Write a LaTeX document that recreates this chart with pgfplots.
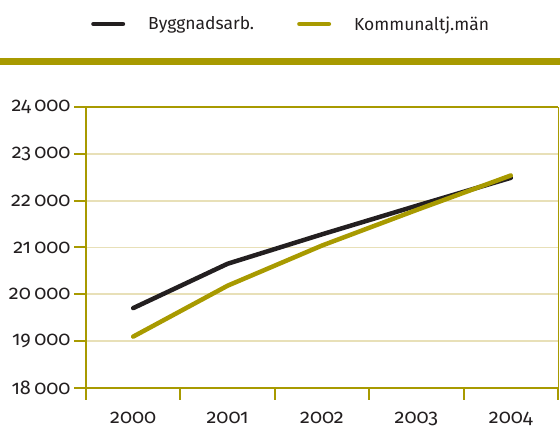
\documentclass[border=0pt]{standalone}
\usepackage{fontspec}
\setmainfont{Fira Sans}[RawFeature=+onum]
\newfontfamily\fa{Fira Sans}[RawFeature=+onum]
\usepackage{pgfplots}
\pgfplotsset{compat=1.18}
\definecolor{olv}{RGB}{168,154,0}
\definecolor{gridc}{RGB}{232,224,184}
\definecolor{txt}{RGB}{35,31,32}
\begin{document}
\begin{tikzpicture}[x=1bp,y=1bp]
\useasboundingbox (0,0) rectangle (560,429);
\fill[olv] (0,429-65) rectangle (560,429-57.5);
\begin{axis}[
  at={(86bp,41.5bp)}, anchor=south west,
  scale only axis, width=472bp, height=280.2bp,
  clip=false,
  xmin=-0.5, xmax=4.5, ymin=18000, ymax=24000,
  scaled y ticks=false,
  xtick={-0.5,0.5,...,4.5}, x tick label as interval,
  xticklabels={\mbox{\fa 2000},\mbox{\fa 2001},\mbox{\fa 2002},\mbox{\fa 2003},\mbox{\fa 2004}},
  ytick={18000,19000,...,24000},
  yticklabels={\mbox{\fa 18\,000},\mbox{\fa 19\,000},\mbox{\fa 20\,000},\mbox{\fa 21\,000},\mbox{\fa 22\,000},\mbox{\fa 23\,000},\mbox{\fa 24\,000}},
  tick align=outside, tick pos=left,
  major tick length=12bp,
  every tick/.style={olv, line width=2bp},
  ymajorgrids, grid style={gridc, line width=1.6bp},
  axis line style={draw=none},
  tick label style={font=\fa\fontsize{20}{24}\selectfont, text=txt},
  xticklabel style={yshift=-9bp},
  yticklabel style={inner xsep=3.3bp},
  legend columns=2,
  legend style={at={(axis description cs:0.0106,1.2973)}, anchor=west, draw=none, fill=none, inner sep=0pt,
    font=\fa\fontsize{17.5}{21}\selectfont, text=txt,
    /tikz/every odd column/.append style={column sep=23bp},
    /tikz/every even column/.append style={column sep=43bp},
    nodes={inner sep=0pt, anchor=west}},
  legend image code/.code={\draw[#1, line width=4.5bp, line cap=round] (2.25bp,0bp) -- (31.75bp,0bp);},
]
\addplot[txt, line width=4.5bp, line cap=round, line join=round] coordinates {(0,19700) (1,20650) (2,21280) (3,21890) (4,22490)};
\addlegendentry{Byggnadsarb.}
\addplot[olv, line width=4.5bp, line cap=round, line join=round] coordinates {(0,19090) (1,20180) (2,21040) (3,21800) (4,22540)};
\addlegendentry{Kommunaltj.män}
\draw[olv, line width=2bp] (rel axis cs:0,1) -- (rel axis cs:0,0) -- (rel axis cs:1,0);
\draw[olv, line width=2bp] (rel axis cs:0,1) -- (rel axis cs:1,1);
\draw[olv, line width=1bp] (rel axis cs:1,0) -- (rel axis cs:1,1);
\end{axis}
\end{tikzpicture}
\end{document}
